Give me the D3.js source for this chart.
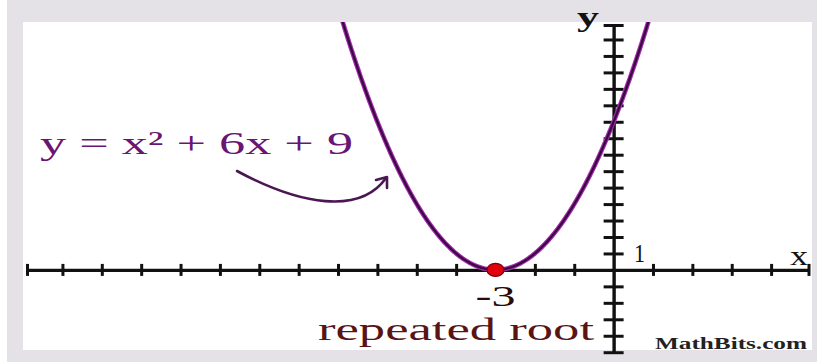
<!DOCTYPE html>
<html>
<head>
<meta charset="utf-8">
<script src="https://cdn.jsdelivr.net/npm/d3@7"></script>
<style>
  html, body { margin: 0; padding: 0; background: #ffffff; }
  svg { display: block; }
</style>
</head>
<body>
<svg id="chart" width="817" height="362"></svg>
<script>
// Quadratic y = a*x^2 + b*x + c
const coefficients = [1, 6, 9];
const equationLabel = "y = x² + 6x + 9";
const rootX = [-3];
const rootLabel = "-3";
const rootCaption = "repeated root";

// Axis extents and tick marks
const xExtent = [-14.9, 4.95];
const yExtent = [-5.03, 14.88];
const xTicks = [-14, -13, -12, -11, -10, -9, -8, -7, -6, -5, -4, -3, -2, -1, 1, 2, 3, 4];
const yTicks = [-5, -4, -3, -2, -1, 1, 2, 3, 4, 5, 6, 7, 8, 9, 10, 11, 12, 13, 14];
const unitLabel = ["1"];
const axisNames = ["x", "y"];
const credit = "MathBits.com";

const svg = d3.select("#chart");
const W = 817, H = 362;

// Frame and plotting panel
svg.append("rect").attr("x", 7).attr("y", 0).attr("width", W - 7).attr("height", H)
  .attr("fill", "#e5e2e7");
svg.append("rect").attr("x", 23).attr("y", 22).attr("width", 789).attr("height", 328)
  .attr("fill", "#ffffff");

const x = d3.scaleLinear().domain(xExtent).range([27, 808.5]);
const y = d3.scaleLinear().domain(yExtent).range([352.7, 25]);

svg.append("defs").append("clipPath").attr("id", "panel")
  .append("rect").attr("x", 23).attr("y", 22).attr("width", 789).attr("height", 328);

// x axis with ticks crossing the line
const xAxis = svg.append("g").attr("transform", `translate(0,${y(0)})`)
  .call(d3.axisBottom(x).tickValues(xTicks.concat(xExtent)).tickSize(0).tickFormat(""));
xAxis.select(".domain").attr("stroke", "#111").attr("stroke-width", 3.4);
xAxis.selectAll(".tick line").attr("y1", -6).attr("y2", 6)
  .attr("stroke", "#111").attr("stroke-width", 3);

// y axis with ticks crossing the line
const yAxis = svg.append("g").attr("transform", `translate(${x(0)},0)`)
  .call(d3.axisLeft(y).tickValues(yTicks.concat([yExtent[1]])).tickSize(0).tickFormat(""));
yAxis.select(".domain").attr("stroke", "#111").attr("stroke-width", 3.4);
yAxis.selectAll(".tick line").attr("x1", -10).attr("x2", 10)
  .attr("stroke", "#111").attr("stroke-width", 3);

// Parabola
const [a, b, c] = coefficients;
const f = t => a * t * t + b * t + c;
const samples = d3.range(-7.2, 1.2001, 0.02).map(t => [t, f(t)]);
const line = d3.line().x(d => x(d[0])).y(d => y(d[1])).curve(d3.curveLinear);
const curve = svg.append("g").attr("clip-path", "url(#panel)");
curve.append("path").datum(samples).attr("d", line)
  .attr("fill", "none").attr("stroke", "#a62ab0").attr("stroke-width", 4.6);
curve.append("path").datum(samples).attr("d", line)
  .attr("fill", "none").attr("stroke", "#3a0a42").attr("stroke-width", 2.3);

// Root marker
svg.selectAll(".root").data(rootX).enter().append("ellipse")
  .attr("cx", d => x(d)).attr("cy", d => y(f(d)))
  .attr("rx", 8.5).attr("ry", 6.5)
  .attr("fill", "#e3000f").attr("stroke", "#7a0008").attr("stroke-width", 1.2);

// Labels
const serif = "'Liberation Serif', 'DejaVu Serif', serif";

svg.append("text").attr("x", 40).attr("y", 154)
  .attr("font-family", serif).attr("font-size", 32)
  .attr("fill", "#6a1473")
  .attr("textLength", 313).attr("lengthAdjust", "spacingAndGlyphs")
  .text(equationLabel);

// Curved pointer from the equation to the curve
const pointer = d3.path();
pointer.moveTo(237, 171);
pointer.bezierCurveTo(300, 205, 360, 215, 386, 178);
svg.append("path").attr("d", pointer.toString())
  .attr("fill", "none").attr("stroke", "#4a1752").attr("stroke-width", 2.6)
  .attr("stroke-linecap", "round");
svg.append("path").attr("d", "M376,180 L387,177 L387,188")
  .attr("fill", "none").attr("stroke", "#4a1752").attr("stroke-width", 2.6)
  .attr("stroke-linecap", "round").attr("stroke-linejoin", "round");

svg.append("text").attr("x", x(rootX[0])).attr("y", 306)
  .attr("text-anchor", "middle")
  .attr("font-family", serif).attr("font-size", 30).attr("fill", "#2a0a0a")
  .attr("textLength", 40).attr("lengthAdjust", "spacingAndGlyphs")
  .text(rootLabel);

svg.append("text").attr("x", 318).attr("y", 340)
  .attr("font-family", serif).attr("font-size", 32).attr("fill", "#5a1414")
  .attr("textLength", 276).attr("lengthAdjust", "spacingAndGlyphs")
  .text(rootCaption);

svg.append("text").attr("x", 634).attr("y", 262)
  .attr("font-family", serif).attr("font-size", 25).attr("fill", "#111")
  .attr("textLength", 11).attr("lengthAdjust", "spacingAndGlyphs")
  .text(unitLabel[0]);

svg.append("text").attr("x", 790).attr("y", 265)
  .attr("font-family", serif).attr("font-size", 28).attr("fill", "#111")
  .attr("textLength", 18).attr("lengthAdjust", "spacingAndGlyphs")
  .text(axisNames[0]);

svg.append("text").attr("x", 577).attr("y", 26)
  .attr("font-family", serif).attr("font-size", 28).attr("font-weight", "bold").attr("fill", "#111")
  .attr("textLength", 22).attr("lengthAdjust", "spacingAndGlyphs")
  .text(axisNames[1]);

svg.append("text").attr("x", 655).attr("y", 349)
  .attr("font-family", serif).attr("font-size", 16).attr("font-weight", "bold").attr("fill", "#222")
  .attr("textLength", 152).attr("lengthAdjust", "spacingAndGlyphs")
  .text(credit);
</script>
</body>
</html>
